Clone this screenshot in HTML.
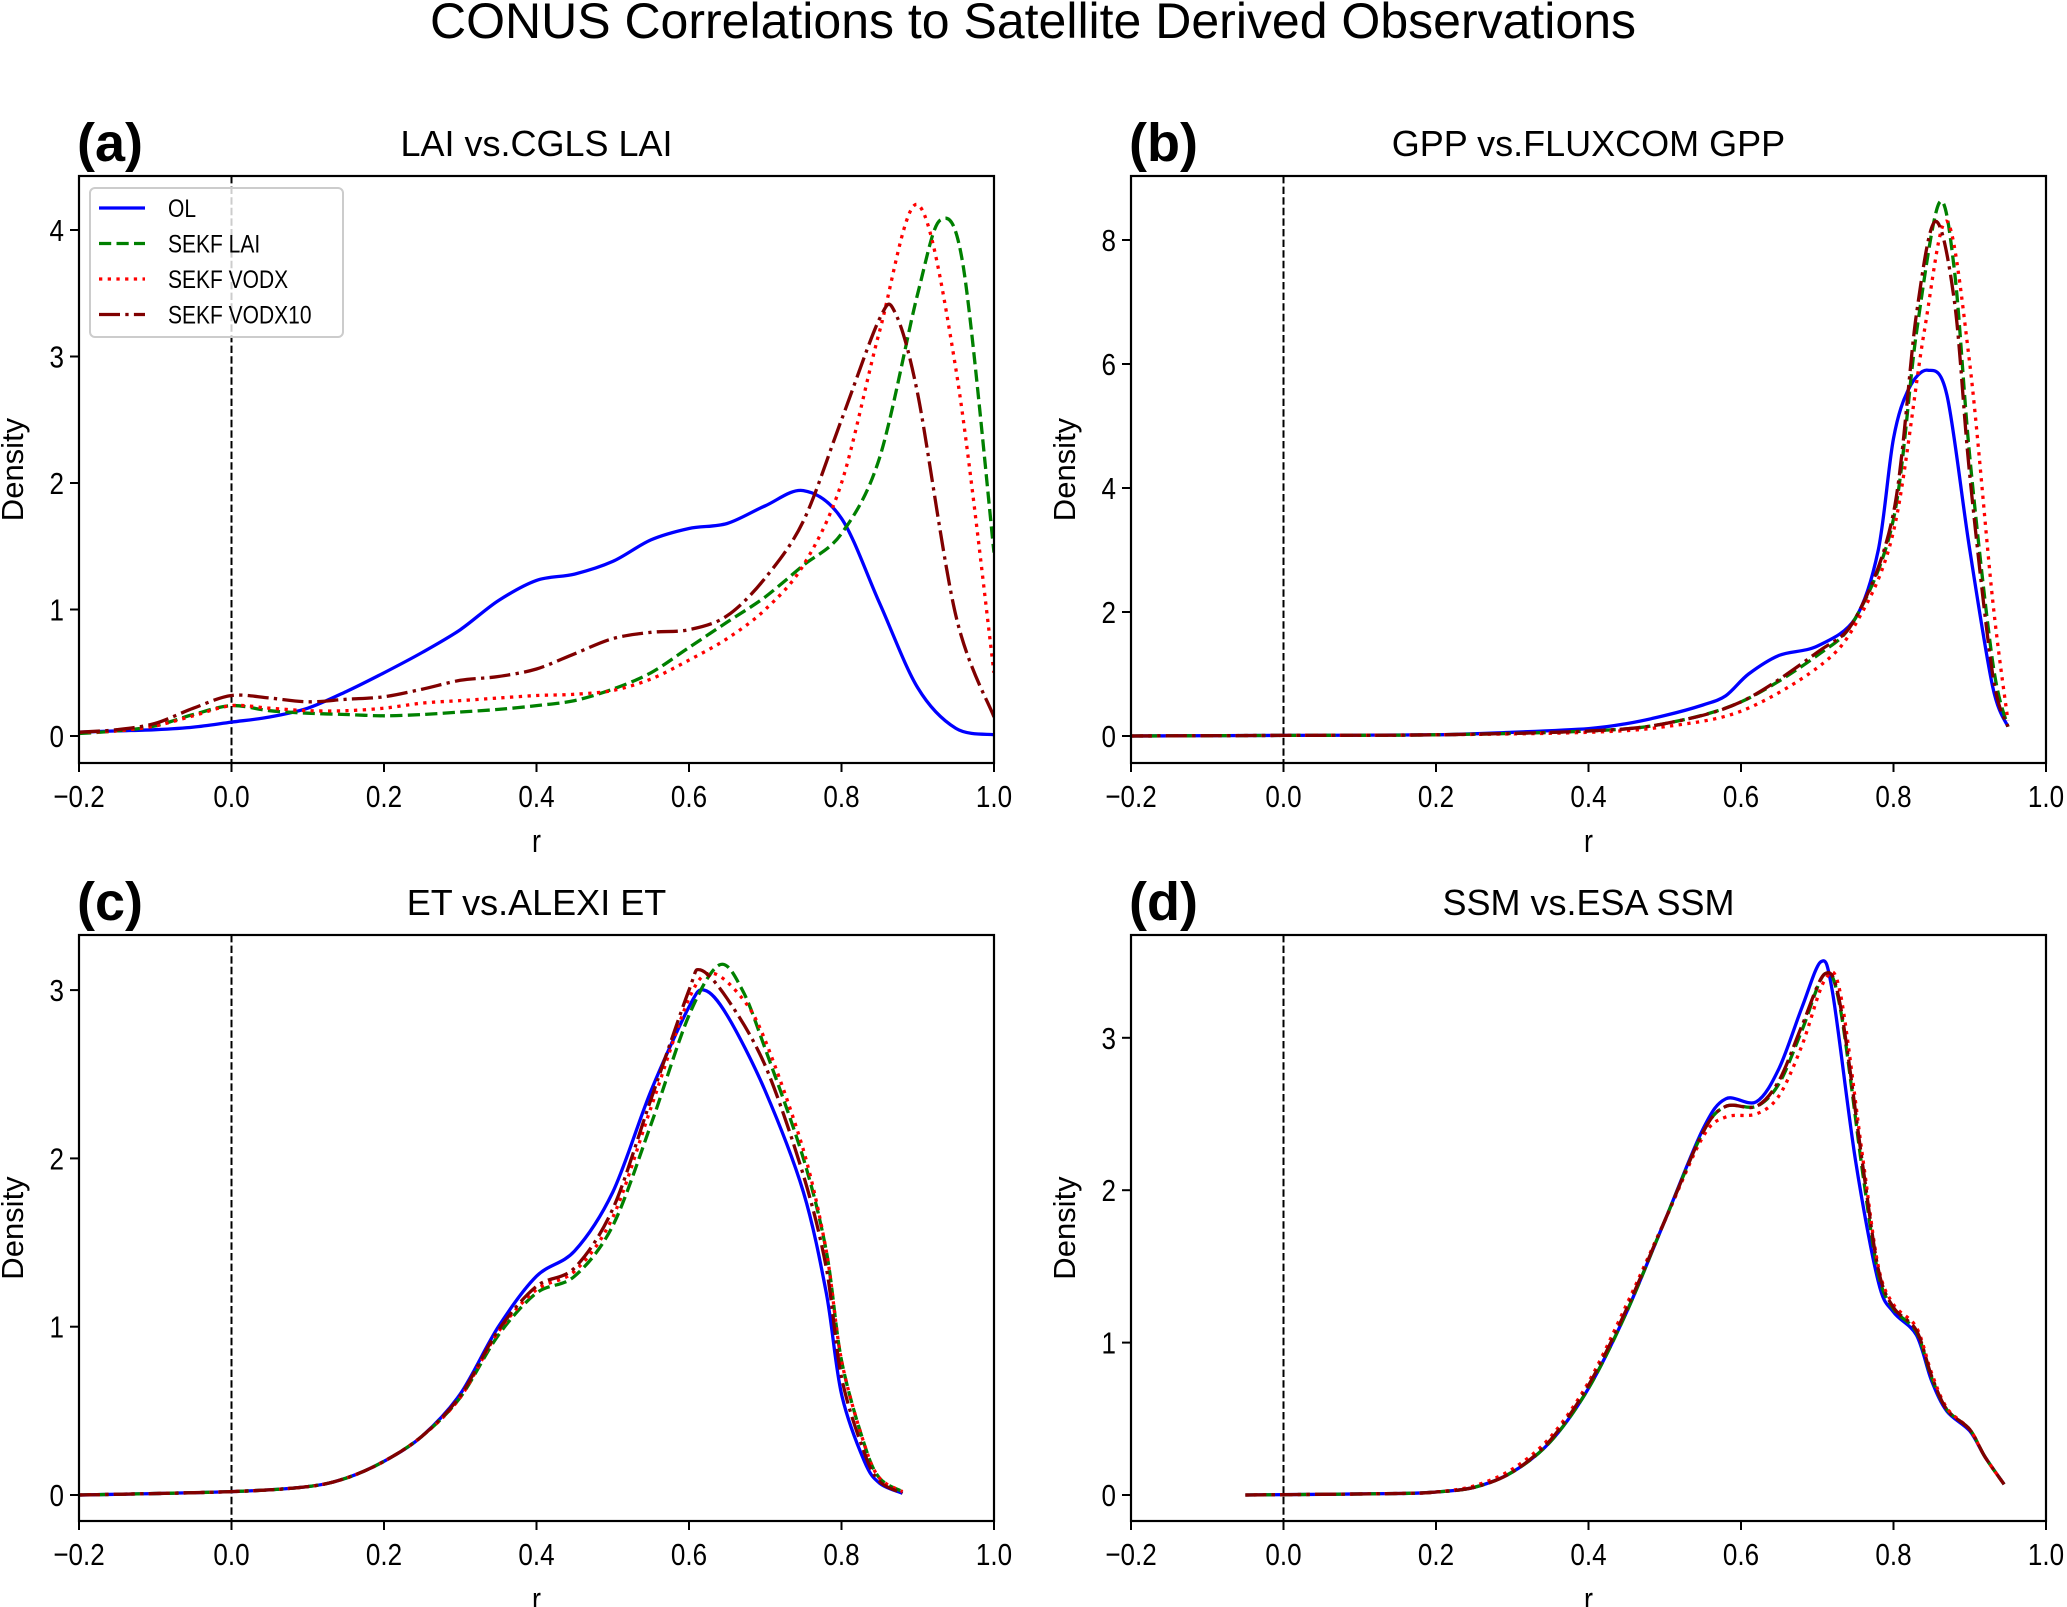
<!DOCTYPE html>
<html><head><meta charset="utf-8">
<style>
html,body{margin:0;padding:0;background:#fff;}
svg{display:block;font-family:"Liberation Sans","DejaVu Sans",sans-serif;}
</style></head>
<body>
<svg id="fig" width="2067" height="1607" viewBox="0 0 2067 1607" xmlns="http://www.w3.org/2000/svg">
<text x="1033" y="38" font-size="50" text-anchor="middle">CONUS Correlations to Satellite Derived Observations</text>
</svg>
<script>
// ---- data (r values and densities) ----
const seriesNames = ["OL","SEKF LAI","SEKF VODX","SEKF VODX10"];
// Panel a
const aOLx = [-0.2,-0.15,-0.1,-0.05,0,0.05,0.1,0.15,0.2,0.25,0.3,0.35,0.4,0.45,0.5,0.55,0.6,0.65,0.7,0.75,0.8,0.85,0.9,0.95,1.0];
const aOLy = [0.03,0.04,0.05,0.07,0.11,0.15,0.22,0.35,0.5,0.66,0.84,1.07,1.23,1.28,1.38,1.55,1.64,1.68,1.82,1.94,1.72,1.05,0.38,0.06,0.01];
const aLAIx = [-0.2,-0.15,-0.1,-0.05,0,0.05,0.1,0.15,0.2,0.25,0.3,0.35,0.4,0.45,0.5,0.55,0.6,0.65,0.7,0.75,0.8,0.85,0.9,0.93,0.96,1.0];
const aLAIy = [0.02,0.04,0.08,0.17,0.24,0.2,0.18,0.17,0.16,0.17,0.19,0.21,0.24,0.28,0.37,0.5,0.7,0.9,1.1,1.35,1.6,2.2,3.5,4.08,3.7,1.45];
const aVODx = [-0.2,-0.15,-0.1,-0.05,0,0.05,0.1,0.15,0.2,0.25,0.3,0.35,0.4,0.45,0.5,0.55,0.6,0.65,0.7,0.75,0.8,0.85,0.9,0.95,1.0];
const aVODy = [0.03,0.04,0.08,0.16,0.24,0.22,0.2,0.2,0.22,0.26,0.28,0.3,0.32,0.33,0.36,0.45,0.6,0.77,1.0,1.35,2.0,3.2,4.2,2.9,0.5];
const aV10x = [-0.2,-0.15,-0.1,-0.05,0,0.05,0.1,0.15,0.2,0.25,0.3,0.35,0.4,0.45,0.5,0.55,0.6,0.65,0.7,0.75,0.8,0.85,0.87,0.9,0.95,1.0];
const aV10y = [0.03,0.05,0.1,0.22,0.32,0.3,0.27,0.29,0.31,0.37,0.44,0.47,0.53,0.65,0.77,0.82,0.84,0.95,1.25,1.7,2.5,3.3,3.35,2.7,0.95,0.15];
// Panel b
const bOLx = [-0.2,0,0.2,0.3,0.4,0.45,0.5,0.55,0.58,0.61,0.65,0.7,0.75,0.78,0.8,0.82,0.845,0.87,0.9,0.93,0.95];
const bOLy = [0,0.01,0.02,0.06,0.12,0.2,0.33,0.5,0.65,1.0,1.3,1.45,1.9,3.0,4.8,5.6,5.9,5.5,3.0,0.8,0.15];
const bLAIx = [-0.2,0,0.2,0.4,0.5,0.6,0.7,0.75,0.8,0.83,0.86,0.88,0.9,0.93,0.95];
const bLAIy = [0,0.01,0.02,0.08,0.2,0.55,1.3,1.9,3.5,6.5,8.6,7.5,4.5,1.2,0.15];
const bVODx = [-0.2,0,0.2,0.4,0.5,0.6,0.7,0.75,0.8,0.84,0.87,0.9,0.93,0.95];
const bVODy = [0,0.01,0.02,0.06,0.15,0.4,1.1,1.8,3.3,6.5,8.3,6.0,2.2,0.25];
const bV10x = [-0.2,0,0.2,0.4,0.5,0.6,0.7,0.75,0.8,0.83,0.855,0.88,0.9,0.93,0.95];
const bV10y = [0,0.01,0.02,0.08,0.2,0.55,1.35,1.9,3.6,6.8,8.3,7.0,4.2,1.0,0.15];
// Panel c
const cOLx = [-0.2,0,0.1,0.15,0.2,0.25,0.3,0.35,0.4,0.45,0.5,0.55,0.6,0.62,0.65,0.7,0.75,0.78,0.8,0.83,0.85,0.88];
const cOLy = [0,0.02,0.05,0.1,0.2,0.35,0.6,1.0,1.3,1.45,1.8,2.4,2.9,3.0,2.85,2.4,1.8,1.2,0.6,0.2,0.07,0.01];
const cLAIx = [-0.2,0,0.1,0.15,0.2,0.25,0.3,0.35,0.4,0.45,0.5,0.55,0.6,0.64,0.67,0.7,0.75,0.78,0.8,0.83,0.85,0.88];
const cLAIy = [0,0.02,0.05,0.1,0.2,0.35,0.58,0.95,1.2,1.3,1.6,2.2,2.85,3.15,3.0,2.65,2.0,1.45,0.8,0.3,0.1,0.02];
const cVODx = [-0.2,0,0.1,0.15,0.2,0.25,0.3,0.35,0.4,0.45,0.5,0.55,0.6,0.63,0.67,0.7,0.75,0.78,0.8,0.83,0.85,0.88];
const cVODy = [0,0.02,0.05,0.1,0.2,0.35,0.58,0.97,1.22,1.33,1.65,2.3,2.95,3.1,2.95,2.7,2.05,1.45,0.8,0.3,0.1,0.02];
const cV10x = [-0.2,0,0.1,0.15,0.2,0.25,0.3,0.35,0.4,0.45,0.5,0.55,0.6,0.615,0.65,0.7,0.75,0.78,0.8,0.83,0.85,0.88];
const cV10y = [0,0.02,0.05,0.1,0.2,0.35,0.59,0.98,1.24,1.35,1.7,2.35,3.0,3.12,2.95,2.55,1.9,1.35,0.7,0.25,0.08,0.01];
// Panel d
const dOLx = [-0.05,0.15,0.2,0.25,0.3,0.35,0.4,0.45,0.5,0.55,0.58,0.62,0.65,0.68,0.705,0.72,0.75,0.78,0.8,0.83,0.85,0.87,0.9,0.92,0.945];
const dOLy = [0,0.01,0.02,0.05,0.15,0.35,0.7,1.2,1.8,2.4,2.6,2.58,2.8,3.2,3.5,3.3,2.2,1.4,1.2,1.05,0.75,0.55,0.42,0.25,0.07];
const dLAIx = [-0.05,0.15,0.2,0.25,0.3,0.35,0.4,0.45,0.5,0.55,0.58,0.62,0.65,0.68,0.71,0.73,0.76,0.78,0.8,0.83,0.85,0.87,0.9,0.92,0.945];
const dLAIy = [0,0.01,0.02,0.05,0.15,0.35,0.7,1.2,1.8,2.38,2.55,2.55,2.7,3.05,3.42,3.2,2.1,1.45,1.22,1.07,0.77,0.56,0.43,0.25,0.07];
const dVODx = [-0.05,0.15,0.2,0.25,0.3,0.35,0.4,0.45,0.5,0.55,0.58,0.62,0.65,0.68,0.71,0.73,0.76,0.78,0.8,0.83,0.85,0.87,0.9,0.92,0.945];
const dVODy = [0,0.01,0.02,0.06,0.17,0.38,0.74,1.25,1.8,2.35,2.48,2.5,2.62,2.95,3.38,3.3,2.2,1.5,1.25,1.1,0.8,0.57,0.43,0.25,0.07];
const dV10x = [-0.05,0.15,0.2,0.25,0.3,0.35,0.4,0.45,0.5,0.55,0.58,0.62,0.65,0.68,0.71,0.73,0.76,0.78,0.8,0.83,0.85,0.87,0.9,0.92,0.945];
const dV10y = [0,0.01,0.02,0.05,0.15,0.36,0.72,1.22,1.8,2.38,2.55,2.55,2.72,3.08,3.42,3.22,2.15,1.48,1.23,1.08,0.78,0.56,0.43,0.25,0.07];

const xTicks = [-0.2,0.0,0.2,0.4,0.6,0.8,1.0];
const xTickLabels = ["\u22120.2","0.0","0.2","0.4","0.6","0.8","1.0"];
const aYTicks = [0,1,2,3,4];
const bYTicks = [0,2,4,6,8];
const cYTicks = [0,1,2,3];
const dYTicks = [0,1,2,3];

const NS="http://www.w3.org/2000/svg";
const svg=document.getElementById('fig');
function el(tag,attrs,parent){const e=document.createElementNS(NS,tag);for(const k in attrs)e.setAttribute(k,attrs[k]);(parent||svg).appendChild(e);return e;}

const colors=["#0000ff","#008000","#ff0000","#800000"];
const dashes=["none","12.2,5.3","3.3,5.4","21,5.3,3.3,5.3"];
const NARROW=0.84;

function smoothPath(pts){
  let d="M"+pts[0][0].toFixed(1)+","+pts[0][1].toFixed(1);
  for(let i=0;i<pts.length-1;i++){
    const p0=pts[Math.max(i-1,0)],p1=pts[i],p2=pts[i+1],p3=pts[Math.min(i+2,pts.length-1)];
    const t=0.16;
    const c1=[p1[0]+(p2[0]-p0[0])*t,p1[1]+(p2[1]-p0[1])*t];
    const c2=[p2[0]-(p3[0]-p1[0])*t,p2[1]-(p3[1]-p1[1])*t];
    d+=" C"+c1[0].toFixed(1)+","+c1[1].toFixed(1)+" "+c2[0].toFixed(1)+","+c2[1].toFixed(1)+" "+p2[0].toFixed(1)+","+p2[1].toFixed(1);
  }
  return d;
}
function narrowText(parent,x,y,size,anchor,txt){
  const t=el('text',{x:0,y:0,"font-size":size,"text-anchor":anchor,transform:"translate("+x+","+y+") scale("+NARROW+",1)"},parent);
  t.textContent=txt;return t;
}

function panel(cfg){
  const g=el('g',{});
  
  
  const L=cfg.left,R=cfg.right,T=cfg.top,B=cfg.bottom;
  const xs=v=>L+(v+0.2)/1.2*(R-L);
  const ys=v=>cfg.y0-v*cfg.unit;
  const clipId='clip-'+cfg.id;
  const cp=el('clipPath',{id:clipId},g);el('rect',{x:L,y:T,width:R-L,height:B-T},cp);
  const zl=el('line',{x1:xs(0),x2:xs(0),y1:T,y2:B,stroke:"#000","stroke-width":2,"stroke-dasharray":"7.4,3.2"},g);
  
  
  const cg=el('g',{'clip-path':'url(#'+clipId+')'},g);
  cfg.series.forEach((s,i)=>{
    const pts=s[0].map((x,j)=>[xs(x),ys(s[1][j])]);
    const p=el('path',{d:smoothPath(pts),fill:"none",stroke:colors[i],"stroke-width":3.3,"stroke-dasharray":dashes[i]},cg);
    
    
  });
  const fr=el('rect',{x:L,y:T,width:R-L,height:B-T,fill:"none",stroke:"#000","stroke-width":2.2},g);
  
  
  xTicks.forEach((v,i)=>{
    el('line',{x1:xs(v),x2:xs(v),y1:B,y2:B+9,stroke:"#000","stroke-width":2},g);
    const t=narrowText(g,xs(v),B+44,31,"middle",xTickLabels[i]);
    
    
  });
  cfg.yTicks.forEach(v=>{
    el('line',{x1:L-9,x2:L,y1:ys(v),y2:ys(v),stroke:"#000","stroke-width":2},g);
    const t=narrowText(g,L-15,ys(v)+11,31,"end",String(v));
    
    
  });
  const xl=narrowText(g,(L+R)/2,B+89,32,"middle","r");
  
  
  const yl=el('text',{x:0,y:0,"font-size":31,"text-anchor":"middle",transform:"translate("+(L-56)+","+((T+B)/2)+") rotate(-90)"},g);yl.textContent="Density";
  
  
  const ti=el('text',{x:(L+R)/2,y:T-20,"font-size":36,"text-anchor":"middle"},g);ti.textContent=cfg.title;
  
  
  const lb=el('text',{x:L-2,y:T-15,"font-size":54,"font-weight":"bold"},g);lb.textContent=cfg.label;
  
  
  return g;
}

panel({id:'a',left:79,right:994,top:176,bottom:763,y0:736,unit:126.5,yTicks:aYTicks,title:"LAI vs.CGLS LAI",label:"(a)",
  series:[[aOLx,aOLy],[aLAIx,aLAIy],[aVODx,aVODy],[aV10x,aV10y]]});
panel({id:'b',left:1131,right:2046,top:176,bottom:763,y0:736,unit:62,yTicks:bYTicks,title:"GPP vs.FLUXCOM GPP",label:"(b)",
  series:[[bOLx,bOLy],[bLAIx,bLAIy],[bVODx,bVODy],[bV10x,bV10y]]});
panel({id:'c',left:79,right:994,top:935,bottom:1521,y0:1495,unit:168.3,yTicks:cYTicks,title:"ET vs.ALEXI ET",label:"(c)",
  series:[[cOLx,cOLy],[cLAIx,cLAIy],[cVODx,cVODy],[cV10x,cV10y]]});
panel({id:'d',left:1131,right:2046,top:935,bottom:1521,y0:1495,unit:152.4,yTicks:dYTicks,title:"SSM vs.ESA SSM",label:"(d)",
  series:[[dOLx,dOLy],[dLAIx,dLAIy],[dVODx,dVODy],[dV10x,dV10y]]});

const lg=el('g',{});


el('rect',{x:90,y:188,width:253,height:149,rx:5,fill:"#fff","fill-opacity":0.8,stroke:"#ccc","stroke-width":2},lg);
seriesNames.forEach((n,i)=>{
  const y=208+i*35.5;
  el('line',{x1:99,x2:145,y1:y,y2:y,stroke:colors[i],"stroke-width":3.3,"stroke-dasharray":dashes[i]},lg);
  const t=narrowText(lg,168,y+9,25,"start",n);
  
  
});
</script>
</body></html>
